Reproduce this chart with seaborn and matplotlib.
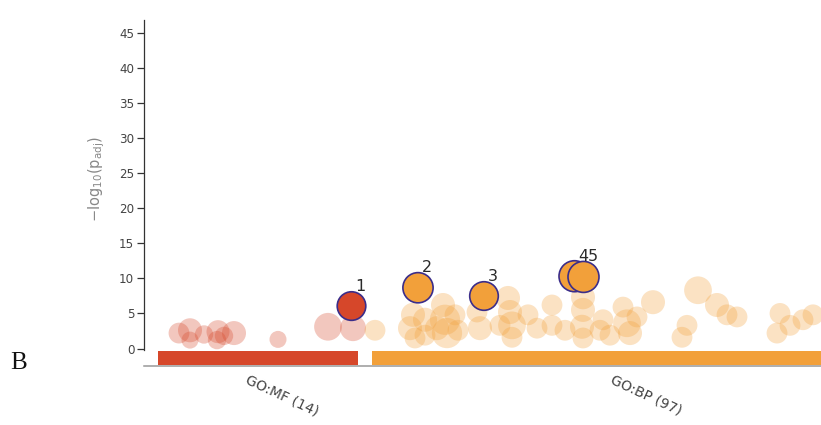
import matplotlib
matplotlib.use("Agg")
import matplotlib.pyplot as plt
import matplotlib.transforms as mtransforms
import numpy as np
import pandas as pd
import seaborn as sns

# ---- data -----------------------------------------------------------------
sources = ["GO:MF", "GO:BP"]
source_counts = [14, 97]
source_colors = ["#d6472a", "#f2a03a"]
source_start = [14, 228]          # term index range of each source on the x axis
source_end = [214, 730]

# all enriched terms (faded background points)
mf_pos = [35, 46, 46, 74, 73, 90, 134, 184, 209, 60, 80]
mf_val = [2.2, 2.6, 1.2, 2.4, 1.2, 2.2, 1.3, 3.1, 2.9, 2.0, 1.8]
mf_size = [20, 23, 17, 22, 18, 23, 17, 27, 25, 18, 18]

bp_pos = [231, 269, 266, 271, 299, 301, 303, 293, 314, 333, 336, 364, 366, 368,
          368, 384, 393, 408, 408, 439, 439, 438, 439, 459, 479, 483, 486, 466,
          493, 509, 543, 538, 554, 573, 583, 593, 636, 633, 646, 659, 669,
          281, 311, 356, 421, 456, 281]
bp_val = [2.6, 4.8, 2.9, 1.5, 6.2, 4.1, 2.2, 2.9, 2.6, 5.2, 2.9, 7.2, 5.2, 3.3,
          1.6, 4.8, 2.9, 6.2, 3.3, 7.3, 5.5, 3.1, 1.5, 4.1, 5.9, 3.6, 2.2, 1.9,
          4.5, 6.6, 3.3, 1.6, 8.3, 6.2, 4.8, 4.5, 5.0, 2.2, 3.3, 4.1, 4.8,
          4.1, 4.8, 3.3, 2.6, 2.6, 1.9]
bp_size = [20, 23, 23, 20, 23, 30, 30, 23, 20, 20, 23, 23, 23, 27,
           20, 20, 20, 20, 20, 23, 23, 23, 20, 20, 20, 27, 23, 20,
           20, 23, 20, 20, 27, 23, 20, 20, 20, 20, 20, 20, 20,
           23, 20, 20, 20, 20, 20]

# highlighted terms
hl_id = ["1", "2", "3", "4", "5"]
hl_source = ["GO:MF", "GO:BP", "GO:BP", "GO:BP", "GO:BP"]
hl_pos = [207.5, 274, 340, 430.5, 439.5]
hl_val = [6.05, 8.66, 7.48, 10.3, 10.2]
hl_size = [28, 30, 28, 31, 31]

y_ticks = [0, 5, 10, 15, 20, 25, 30, 35, 40, 45]

# ---- figure -----------------------------------------------------------------
sns.set_style("white")
plt.rcParams["font.family"] = ["DejaVu Sans"]

fig = plt.figure(figsize=(8.21, 4.25), dpi=100)
ax = fig.add_axes([144 / 821, (425 - 366) / 425, (821 - 144) / 821, (366 - 20) / 425])

palette = dict(zip(sources, source_colors))
size_norm = (17, 31)
size_range = (150, 498)

faded = pd.DataFrame({
    "source": ["GO:MF"] * len(mf_pos) + ["GO:BP"] * len(bp_pos),
    "pos": mf_pos + bp_pos,
    "value": mf_val + bp_val,
    "size": mf_size + bp_size,
})
sns.scatterplot(data=faded, x="pos", y="value", hue="source", palette=palette,
                size="size", sizes=size_range, size_norm=size_norm,
                alpha=0.3, linewidth=0, legend=False, ax=ax, zorder=2)

hl = pd.DataFrame({"id": hl_id, "source": hl_source, "pos": hl_pos,
                   "value": hl_val, "size": hl_size})
sns.scatterplot(data=hl, x="pos", y="value", hue="source", palette=palette,
                size="size", sizes=size_range, size_norm=size_norm,
                edgecolor="#3b2d8a", linewidth=1.2, alpha=1, legend=False,
                ax=ax, zorder=4)

for _, r in hl.iterrows():
    ax.annotate(r["id"], (r["pos"], r["value"]), xytext=(6.5, 14.4),
                textcoords="offset points", ha="center", va="center",
                fontsize=11.5, color="#2a2a2a", zorder=5)

# source bars below the zero line
for s, a, b, c in zip(sources, source_start, source_end, source_colors):
    ax.bar(a, -1.95, bottom=-0.35, width=b - a, align="edge", color=c,
           linewidth=0, zorder=3)

# category labels
lab_tr = mtransforms.offset_copy(ax.get_xaxis_transform(), fig=fig, x=-6, y=-4.5,
                                 units="points")
for s, n, a, b in zip(sources, source_counts, source_start, source_end):
    ax.text((a + b) / 2, 0, f"{s} ({n})", transform=lab_tr, rotation=-25,
            rotation_mode="anchor", ha="left", va="top", fontsize=10,
            color="#444444")

ax.set_xlim(0, 677)
ax.set_ylim(-2.49, 46.8)
ax.set_xticks([])
ax.set_yticks(y_ticks)
ax.tick_params(axis="y", left=True, length=5, width=0.9, color="#333333",
               labelsize=8.6, labelcolor="#444444", pad=2)
ax.set_xlabel("")
ax.set_ylabel(r"$\mathregular{-log_{10}(p_{adj})}$", fontsize=10.5, color="#888888")
ax.yaxis.set_label_coords(-0.054, 0.54)

for side in ["top", "right"]:
    ax.spines[side].set_visible(False)
ax.spines["left"].set_bounds(-0.2, 46.8)
ax.spines["left"].set_color("#333333")
ax.spines["left"].set_linewidth(0.9)
ax.spines["bottom"].set_color("#999999")
ax.spines["bottom"].set_linewidth(1.1)

fig.text(19 / 821, 1 - 363 / 425, "B", fontsize=18, family=["Liberation Serif"],
         ha="center", va="center", color="#111111")

fig.savefig("out.png", dpi=100)
